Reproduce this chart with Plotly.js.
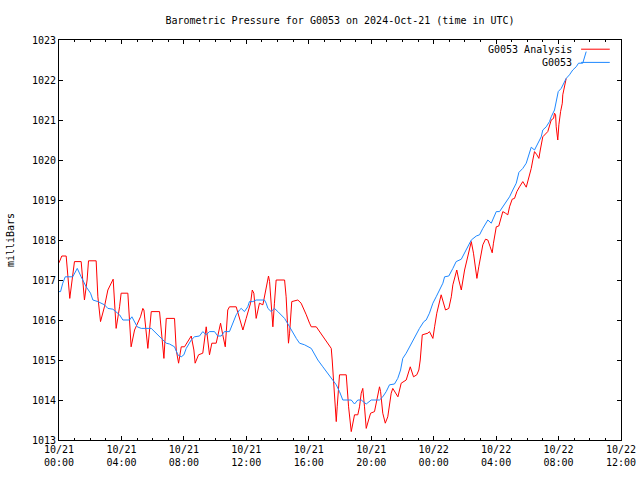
<!DOCTYPE html>
<html>
<head>
<meta charset="utf-8">
<script src="https://cdn.plot.ly/plotly-3.0.1.min.js"></script>
<style>html,body{margin:0;padding:0;background:#fff;}#chart{width:640px;height:480px;}</style>
</head>
<body>
<div id="chart"></div>
<script>
// Hours since 2024-10-21 00:00 UTC
const analysisHours = [0,0.18,0.46,0.69,0.99,1.42,1.63,1.80,1.89,2.38,2.49,2.66,2.91,3.13,3.47,3.66,3.88,3.98,4.41,4.62,4.84,5.22,5.37,5.44,5.69,5.91,6.44,6.72,6.87,7.40,7.51,7.66,7.83,8.04,8.47,8.64,8.72,8.94,9.21,9.43,9.64,9.79,10.07,10.35,10.49,10.65,10.81,10.92,11.35,11.56,11.78,11.99,12.27,12.38,12.48,12.63,12.84,13.06,13.27,13.42,13.49,13.59,13.70,13.80,13.91,14.45,14.55,14.70,14.77,14.91,15.30,15.51,15.62,15.84,16.05,16.16,16.48,16.90,17.33,17.44,17.50,17.61,17.69,17.76,17.82,17.90,17.97,18.40,18.46,18.55,18.72,18.82,18.93,19.14,19.25,19.36,19.46,19.57,19.68,19.83,19.96,20.21,20.32,20.53,20.60,20.74,20.90,21.06,21.28,21.38,21.71,21.92,22.24,22.50,22.71,22.92,23.05,23.14,23.27,23.63,23.73,23.95,24.06,24.20,24.48,24.63,24.76,24.97,25.13,25.23,25.48,25.61,25.77,25.98,26.25,26.41,26.55,26.68,26.77,26.89,27.15,27.32,27.47,27.62,27.75,27.83,28.01,28.17,28.43,28.60,28.75,28.86,29.03,29.18,29.33,29.50,29.71,29.93,30.03,30.25,30.35,30.46,30.61,30.74,30.83,30.99,31.31,31.42,31.53,31.68,31.74,31.81,31.85,31.95,32.02,32.13,32.24,32.27,32.38,32.49];
const analysisMb = [1017.43,1017.6,1017.6,1016.54,1017.46,1017.46,1016.5,1017.0,1017.48,1017.48,1016.58,1015.96,1016.33,1016.75,1017.02,1015.79,1016.33,1016.67,1016.67,1015.33,1015.75,1016.08,1016.29,1016.25,1015.29,1016.21,1016.21,1015.04,1016.04,1016.04,1015.25,1014.92,1015.33,1015.33,1015.6,1015.25,1014.92,1015.13,1015.17,1015.83,1015.13,1015.42,1015.42,1015.92,1015.63,1015.33,1016.25,1016.33,1016.33,1016.04,1015.75,1016.04,1016.42,1016.75,1016.67,1016.04,1016.42,1016.38,1016.83,1017.1,1016.96,1016.42,1015.83,1016.42,1017.0,1017.0,1016.58,1015.42,1015.67,1016.46,1016.5,1016.42,1016.33,1016.13,1015.92,1015.83,1015.83,1015.58,1015.33,1015.29,1015.0,1014.33,1014.0,1013.46,1013.83,1014.25,1014.63,1014.63,1014.17,1013.83,1013.21,1013.42,1013.63,1013.63,1013.83,1014.17,1014.29,1013.83,1013.29,1013.5,1013.67,1013.71,1013.96,1014.33,1014.21,1013.67,1013.42,1013.58,1014.17,1014.29,1014.08,1014.42,1014.5,1014.83,1014.58,1014.63,1014.75,1015.0,1015.63,1015.67,1015.71,1015.54,1015.83,1016.17,1016.63,1016.42,1016.25,1016.29,1016.58,1016.88,1017.25,1017.0,1016.75,1017.25,1017.75,1017.96,1017.67,1017.33,1017.04,1017.33,1017.88,1018.02,1018.0,1017.83,1017.68,1017.92,1018.33,1018.35,1018.71,1018.67,1018.63,1018.83,1019.02,1019.04,1019.21,1019.33,1019.46,1019.32,1019.46,1019.79,1020.0,1020.21,1020.13,1020.04,1020.25,1020.58,1020.71,1020.88,1021.0,1021.04,1021.17,1021.13,1020.83,1020.5,1020.88,1021.21,1021.42,1021.63,1021.88,1022.04];

const stationHours = [0,0.10,0.24,0.40,0.88,1.04,1.17,1.42,1.74,2.02,2.17,2.49,2.91,3.13,3.45,3.88,4.09,4.52,4.67,5.01,5.27,5.91,6.44,6.87,7.08,7.40,7.61,7.83,8.00,8.15,8.47,8.68,9.00,9.21,9.43,9.64,9.96,10.17,10.39,10.60,10.92,11.13,11.35,11.56,11.67,11.88,12.09,12.20,12.42,12.63,13.16,13.27,13.38,13.59,13.80,14.02,14.45,14.77,14.98,15.20,15.41,15.73,16.16,16.37,16.58,16.90,17.22,17.54,17.76,17.97,18.18,18.72,18.93,19.14,19.36,19.68,20.00,20.53,20.74,20.96,21.17,21.49,21.70,21.88,22.02,22.24,22.45,22.67,22.88,23.09,23.37,23.52,23.73,23.95,24.16,24.38,24.59,24.70,24.97,25.23,25.44,25.77,25.98,26.19,26.41,26.73,26.94,27.15,27.47,27.69,28.01,28.22,28.43,28.65,28.86,29.07,29.29,29.46,29.71,29.93,30.10,30.25,30.46,30.67,30.89,30.99,31.21,31.42,31.53,31.74,31.89,31.98,32.17,32.32,32.49,32.70,32.91,33.13,33.28,33.55,33.66,33.77];
const stationMb = [1016.71,1016.71,1016.92,1017.08,1017.08,1017.21,1017.29,1017.08,1016.83,1016.67,1016.5,1016.46,1016.38,1016.29,1016.27,1016.13,1016.0,1016.0,1016.08,1015.83,1015.79,1015.79,1015.58,1015.42,1015.4,1015.33,1015.13,1015.08,1015.13,1015.29,1015.5,1015.58,1015.6,1015.71,1015.63,1015.71,1015.71,1015.6,1015.6,1015.71,1015.71,1015.92,1016.13,1016.25,1016.29,1016.21,1016.33,1016.46,1016.46,1016.5,1016.5,1016.42,1016.29,1016.21,1016.29,1016.21,1016.04,1015.83,1015.67,1015.54,1015.42,1015.38,1015.29,1015.13,1015.0,1014.83,1014.67,1014.5,1014.38,1014.21,1014.0,1014.0,1013.9,1014.0,1014.0,1013.9,1014.0,1014.0,1014.08,1014.21,1014.38,1014.4,1014.54,1014.75,1015.04,1015.17,1015.33,1015.46,1015.63,1015.79,1015.96,1016.0,1016.17,1016.42,1016.58,1016.75,1016.92,1017.08,1017.1,1017.29,1017.46,1017.52,1017.67,1017.83,1018.0,1018.1,1018.13,1018.29,1018.5,1018.42,1018.71,1018.71,1018.83,1018.96,1019.08,1019.25,1019.42,1019.69,1019.79,1019.92,1020.13,1020.32,1020.25,1020.42,1020.58,1020.75,1020.83,1020.96,1021.08,1021.25,1021.54,1021.71,1021.79,1021.92,1022.04,1022.13,1022.25,1022.33,1022.42,1022.42,1022.54,1022.71];

const xTickVals = [0,4,8,12,16,20,24,28,32,36];
const xTickText = ["10/21<br>00:00","10/21<br>04:00","10/21<br>08:00","10/21<br>12:00","10/21<br>16:00","10/21<br>20:00","10/22<br>00:00","10/22<br>04:00","10/22<br>08:00","10/22<br>12:00"];
const yTickVals = [1013,1014,1015,1016,1017,1018,1019,1020,1021,1022,1023];

const seriesNames = ["G0053 Analysis","G0053"];
const seriesColors = ["#ff0000","#1e88ff"];

const FONT = {family:"DejaVu Sans Mono, Liberation Mono, monospace", size:10, color:"#000"};

const traces = [
  {x: analysisHours, y: analysisMb, type:"scatter", mode:"lines", name:seriesNames[0], line:{color:seriesColors[0], width:1}},
  {x: stationHours, y: stationMb, type:"scatter", mode:"lines", name:seriesNames[1], line:{color:seriesColors[1], width:1}}
];

const axisCommon = {
  showgrid:false, zeroline:false, showline:true, linecolor:"#000", linewidth:1,
  mirror:"ticks", ticks:"inside", ticklen:4, tickcolor:"#000", tickwidth:1,
  tickfont:FONT
};

const layout = {
  width:640, height:480,
  margin:{l:59, r:19, t:40, b:40, pad:0},
  paper_bgcolor:"#fff", plot_bgcolor:"#fff",
  font:FONT,
  showlegend:false,
  title:{text:"Barometric Pressure for G0053 on 2024-Oct-21 (time in UTC)", font:FONT, x:0.5, xref:"paper", y:1-20/480, yref:"container", yanchor:"middle"},
  xaxis:Object.assign({}, axisCommon, {
    range:[0,36], tickmode:"array", tickvals:xTickVals, ticktext:xTickText,
    minor:{dtick:1, ticks:"inside", ticklen:2, tickcolor:"#000", showgrid:false}
  }),
  yaxis:Object.assign({}, axisCommon, {
    range:[1013,1023], tickmode:"array", tickvals:yTickVals, ticksuffix:" ",
    title:{text:"milliBars", font:FONT, standoff:15}
  }),
  annotations:[
    {xref:"paper", yref:"paper", x:0.9164, y:0.977, xanchor:"right", yanchor:"middle", text:seriesNames[0], showarrow:false, font:FONT},
    {xref:"paper", yref:"paper", x:0.9164, y:0.944, xanchor:"right", yanchor:"middle", text:seriesNames[1], showarrow:false, font:FONT}
  ],
  shapes:[
    {type:"line", xref:"paper", yref:"paper", x0:0.929, x1:0.980, y0:0.977, y1:0.977, line:{color:seriesColors[0], width:1}},
    {type:"line", xref:"paper", yref:"paper", x0:0.929, x1:0.980, y0:0.944, y1:0.944, line:{color:seriesColors[1], width:1}}
  ]
};

Plotly.newPlot("chart", traces, layout, {displayModeBar:false, staticPlot:true});
</script>
</body>
</html>
